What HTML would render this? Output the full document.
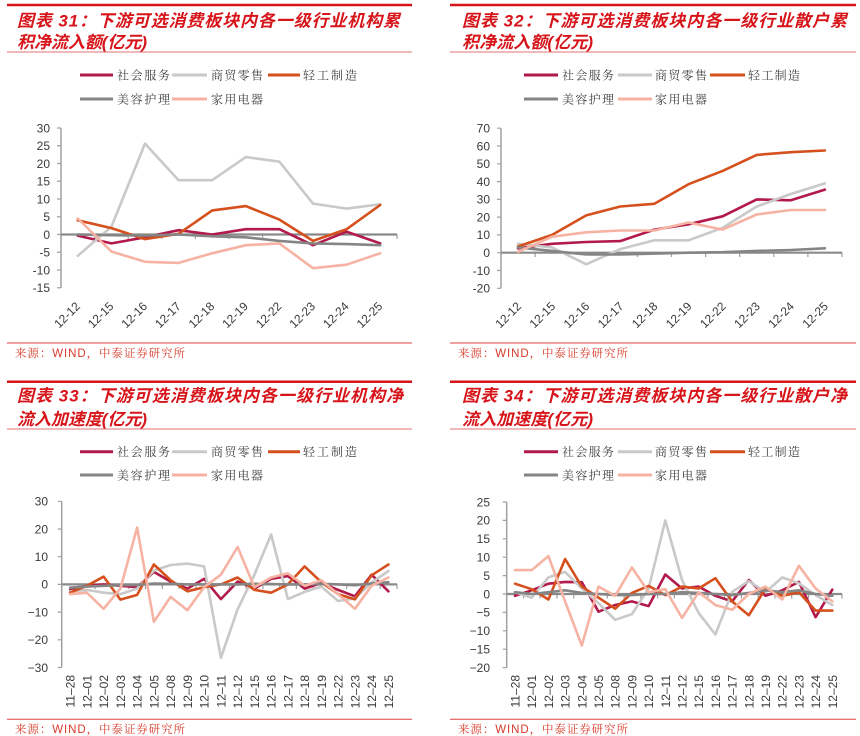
<!DOCTYPE html>
<html><head><meta charset="utf-8">
<style>
html,body{margin:0;padding:0;background:#fff;}
body{width:860px;height:736px;overflow:hidden;}
svg{display:block;}
.tt{font-family:"Liberation Sans","Noto Sans CJK SC",sans-serif;font-weight:bold;font-style:italic;font-size:17px;fill:#d7141a;}
.lg{font-family:"Liberation Serif","Noto Serif CJK SC",serif;font-size:12px;fill:#404040;}
.src{font-family:"Liberation Sans","Noto Serif CJK SC",serif;font-size:11.5px;fill:#d83a2a;}
.ax{font-family:"Liberation Sans",sans-serif;font-size:12px;fill:#3a3a3a;}
.s{fill:none;stroke-width:2.6;stroke-linejoin:round;stroke-linecap:round;}
.c1{stroke:#b21a4a}.c2{stroke:#c9c9c9}.c3{stroke:#d5501d}.c4{stroke:#858585}.c5{stroke:#f6b3a3}
.yax{stroke:#a0a0a0;stroke-width:1.5;fill:none}
.xax{stroke:#8a8a8a;stroke-width:2.2;fill:none}
.tk{stroke:#a0a0a0;stroke-width:1.2;fill:none}
</style></head>
<body>
<svg width="860" height="736" viewBox="0 0 860 736" xmlns="http://www.w3.org/2000/svg">
<!-- ========== Headers ========== -->
<g>
<line x1="7" y1="5" x2="412" y2="5" stroke="#d7141a" stroke-width="2.5"/>
<line x1="7" y1="52" x2="412" y2="52" stroke="#e27070" stroke-width="1"/>
<text class="tt" x="17" y="26.5" textLength="383" lengthAdjust="spacing">图表 31：下游可选消费板块内各一级行业机构累</text>
<text class="tt" x="17" y="48" textLength="130" lengthAdjust="spacing">积净流入额(亿元)</text>

<line x1="450" y1="5" x2="856" y2="5" stroke="#d7141a" stroke-width="2.5"/>
<line x1="450" y1="52" x2="856" y2="52" stroke="#e27070" stroke-width="1"/>
<text class="tt" x="462" y="26.5" textLength="385" lengthAdjust="spacing">图表 32：下游可选消费板块内各一级行业散户累</text>
<text class="tt" x="462" y="48" textLength="131" lengthAdjust="spacing">积净流入额(亿元)</text>

<line x1="7" y1="381.7" x2="412" y2="381.7" stroke="#d7141a" stroke-width="2.5"/>
<line x1="7" y1="429" x2="412" y2="429" stroke="#e27070" stroke-width="1"/>
<text class="tt" x="17" y="401.5" textLength="386" lengthAdjust="spacing">图表 33：下游可选消费板块内各一级行业机构净</text>
<text class="tt" x="17" y="424.8" textLength="130" lengthAdjust="spacing">流入加速度(亿元)</text>

<line x1="450" y1="381.7" x2="856" y2="381.7" stroke="#d7141a" stroke-width="2.5"/>
<line x1="450" y1="429" x2="856" y2="429" stroke="#e27070" stroke-width="1"/>
<text class="tt" x="462" y="401.5" textLength="385" lengthAdjust="spacing">图表 34：下游可选消费板块内各一级行业散户净</text>
<text class="tt" x="462" y="424.8" textLength="131" lengthAdjust="spacing">流入加速度(亿元)</text>
</g>

<!-- ========== Legends ========== -->
<g>
<!-- top-left -->
<line x1="80" y1="75" x2="113" y2="75" stroke="#b21a4a" stroke-width="3"/>
<text class="lg" x="117" y="79.5" textLength="53" lengthAdjust="spacing">社会服务</text>
<line x1="172" y1="75" x2="207" y2="75" stroke="#c9c9c9" stroke-width="3"/>
<text class="lg" x="211" y="79.5" textLength="52" lengthAdjust="spacing">商贸零售</text>
<line x1="268" y1="75" x2="300" y2="75" stroke="#d5501d" stroke-width="3"/>
<text class="lg" x="303" y="79.5" textLength="54" lengthAdjust="spacing">轻工制造</text>
<line x1="80" y1="99" x2="113" y2="99" stroke="#858585" stroke-width="3"/>
<text class="lg" x="117" y="103.5" textLength="53" lengthAdjust="spacing">美容护理</text>
<line x1="172" y1="99" x2="207" y2="99" stroke="#f6b3a3" stroke-width="3"/>
<text class="lg" x="211" y="103.5" textLength="52" lengthAdjust="spacing">家用电器</text>
<!-- top-right -->
<line x1="524" y1="75" x2="558" y2="75" stroke="#b21a4a" stroke-width="3"/>
<text class="lg" x="562" y="79.5" textLength="52" lengthAdjust="spacing">社会服务</text>
<line x1="618" y1="75" x2="652" y2="75" stroke="#c9c9c9" stroke-width="3"/>
<text class="lg" x="655" y="79.5" textLength="52" lengthAdjust="spacing">商贸零售</text>
<line x1="710" y1="75" x2="745" y2="75" stroke="#d5501d" stroke-width="3"/>
<text class="lg" x="748" y="79.5" textLength="52" lengthAdjust="spacing">轻工制造</text>
<line x1="524" y1="99" x2="558" y2="99" stroke="#858585" stroke-width="3"/>
<text class="lg" x="562" y="103.5" textLength="52" lengthAdjust="spacing">美容护理</text>
<line x1="618" y1="99" x2="652" y2="99" stroke="#f6b3a3" stroke-width="3"/>
<text class="lg" x="655" y="103.5" textLength="52" lengthAdjust="spacing">家用电器</text>
<!-- bottom-left -->
<line x1="80" y1="451.7" x2="113" y2="451.7" stroke="#b21a4a" stroke-width="3"/>
<text class="lg" x="117" y="456.2" textLength="53" lengthAdjust="spacing">社会服务</text>
<line x1="172" y1="451.7" x2="207" y2="451.7" stroke="#c9c9c9" stroke-width="3"/>
<text class="lg" x="211" y="456.2" textLength="52" lengthAdjust="spacing">商贸零售</text>
<line x1="268" y1="451.7" x2="300" y2="451.7" stroke="#d5501d" stroke-width="3"/>
<text class="lg" x="303" y="456.2" textLength="54" lengthAdjust="spacing">轻工制造</text>
<line x1="80" y1="475" x2="113" y2="475" stroke="#858585" stroke-width="3"/>
<text class="lg" x="117" y="479.5" textLength="53" lengthAdjust="spacing">美容护理</text>
<line x1="172" y1="475" x2="207" y2="475" stroke="#f6b3a3" stroke-width="3"/>
<text class="lg" x="211" y="479.5" textLength="52" lengthAdjust="spacing">家用电器</text>
<!-- bottom-right -->
<line x1="524" y1="451.7" x2="558" y2="451.7" stroke="#b21a4a" stroke-width="3"/>
<text class="lg" x="562" y="456.2" textLength="52" lengthAdjust="spacing">社会服务</text>
<line x1="618" y1="451.7" x2="652" y2="451.7" stroke="#c9c9c9" stroke-width="3"/>
<text class="lg" x="655" y="456.2" textLength="52" lengthAdjust="spacing">商贸零售</text>
<line x1="710" y1="451.7" x2="745" y2="451.7" stroke="#d5501d" stroke-width="3"/>
<text class="lg" x="748" y="456.2" textLength="52" lengthAdjust="spacing">轻工制造</text>
<line x1="524" y1="475" x2="558" y2="475" stroke="#858585" stroke-width="3"/>
<text class="lg" x="562" y="479.5" textLength="52" lengthAdjust="spacing">美容护理</text>
<line x1="618" y1="475" x2="652" y2="475" stroke="#f6b3a3" stroke-width="3"/>
<text class="lg" x="655" y="479.5" textLength="52" lengthAdjust="spacing">家用电器</text>
</g>

<!-- ========== Sources ========== -->
<g>
<line x1="7" y1="343" x2="412" y2="343" stroke="#e04040" stroke-width="1"/>
<text class="src" x="15" y="356.8" textLength="170" lengthAdjust="spacing">来源：WIND，中泰证券研究所</text>
<line x1="450" y1="343" x2="856" y2="343" stroke="#e04040" stroke-width="1"/>
<text class="src" x="458" y="356.8" textLength="170" lengthAdjust="spacing">来源：WIND，中泰证券研究所</text>
<line x1="7" y1="719.3" x2="412" y2="719.3" stroke="#e04040" stroke-width="1"/>
<text class="src" x="15" y="732.8" textLength="170" lengthAdjust="spacing">来源：WIND，中泰证券研究所</text>
<line x1="450" y1="719.3" x2="856" y2="719.3" stroke="#e04040" stroke-width="1"/>
<text class="src" x="458" y="732.8" textLength="170" lengthAdjust="spacing">来源：WIND，中泰证券研究所</text>
</g>

<!-- ========== Chart 31 (top-left) ========== -->
<g>
<line class="yax" x1="61" y1="128" x2="61" y2="288"/>
<path class="tk" d="M57 128H61M57 145.75H61M57 163.5H61M57 181.25H61M57 199H61M57 216.75H61M57 234.5H61M57 252.25H61M57 270H61M57 287.75H61"/>
<g class="ax" text-anchor="end">
<text x="50" y="132.3">30</text><text x="50" y="150">25</text><text x="50" y="167.8">20</text><text x="50" y="185.5">15</text><text x="50" y="203.3">10</text><text x="50" y="221">5</text><text x="50" y="238.8">0</text><text x="50" y="256.5">-5</text><text x="50" y="274.3">-10</text><text x="50" y="292">-15</text>
</g>
<path class="tk" d="M61 234.5V239M94.6 234.5V239M128.2 234.5V239M161.8 234.5V239M195.4 234.5V239M229 234.5V239M262.6 234.5V239M296.2 234.5V239M329.8 234.5V239M363.4 234.5V239M397 234.5V239"/>
<line class="xax" x1="61" y1="234.5" x2="397" y2="234.5"/>
<g class="ax" text-anchor="end">
<text transform="translate(80.8,307) rotate(-45)">12-12</text>
<text transform="translate(114.4,307) rotate(-45)">12-15</text>
<text transform="translate(148,307) rotate(-45)">12-16</text>
<text transform="translate(181.6,307) rotate(-45)">12-17</text>
<text transform="translate(215.2,307) rotate(-45)">12-18</text>
<text transform="translate(248.8,307) rotate(-45)">12-19</text>
<text transform="translate(282.4,307) rotate(-45)">12-22</text>
<text transform="translate(316,307) rotate(-45)">12-23</text>
<text transform="translate(349.6,307) rotate(-45)">12-24</text>
<text transform="translate(383.2,307) rotate(-45)">12-25</text>
</g>
<polyline class="s c1" points="77.8,235.6 111.4,243.4 145,237.3 178.6,230.2 212.2,234.5 245.8,229.2 279.4,229.2 313,245.2 346.6,231.7 380.2,243.4"/>
<polyline class="s c2" points="77.8,255.8 111.4,226.7 145,143.6 178.6,180.2 212.2,180.2 245.8,157.1 279.4,161.7 313,203.6 346.6,208.6 380.2,204.3"/>
<polyline class="s c3" points="77.8,220.3 111.4,228.1 145,239.1 178.6,233.8 212.2,210.4 245.8,206.1 279.4,219.6 313,240.9 346.6,229.2 380.2,205"/>
<polyline class="s c4" points="77.8,234.5 111.4,235.2 145,235.6 178.6,234.5 212.2,236.3 245.8,237.3 279.4,240.9 313,243.4 346.6,244.1 380.2,245.2"/>
<polyline class="s c5" points="77.8,218.5 111.4,251.5 145,261.8 178.6,262.9 212.2,253.3 245.8,245.2 279.4,243.4 313,268.2 346.6,264.7 380.2,253.3"/>
</g>

<!-- ========== Chart 32 (top-right) ========== -->
<g>
<line class="yax" x1="501" y1="128.2" x2="501" y2="288.3"/>
<path class="tk" d="M497 128.2H501M497 146H501M497 163.8H501M497 181.6H501M497 199.4H501M497 217.1H501M497 234.9H501M497 252.7H501M497 270.5H501M497 288.3H501"/>
<g class="ax" text-anchor="end">
<text x="490" y="132.5">70</text><text x="490" y="150.3">60</text><text x="490" y="168.1">50</text><text x="490" y="185.9">40</text><text x="490" y="203.7">30</text><text x="490" y="221.4">20</text><text x="490" y="239.2">10</text><text x="490" y="257">0</text><text x="490" y="274.8">-10</text><text x="490" y="292.6">-20</text>
</g>
<path class="tk" d="M501 252.7V257M535.1 252.7V257M569.2 252.7V257M603.3 252.7V257M637.4 252.7V257M671.5 252.7V257M705.6 252.7V257M739.7 252.7V257M773.8 252.7V257M807.9 252.7V257M842 252.7V257"/>
<line class="xax" x1="501" y1="252.7" x2="842" y2="252.7"/>
<g class="ax" text-anchor="end">
<text transform="translate(522,307) rotate(-45)">12-12</text>
<text transform="translate(556.1,307) rotate(-45)">12-15</text>
<text transform="translate(590.2,307) rotate(-45)">12-16</text>
<text transform="translate(624.3,307) rotate(-45)">12-17</text>
<text transform="translate(658.4,307) rotate(-45)">12-18</text>
<text transform="translate(692.5,307) rotate(-45)">12-19</text>
<text transform="translate(726.6,307) rotate(-45)">12-22</text>
<text transform="translate(760.7,307) rotate(-45)">12-23</text>
<text transform="translate(794.8,307) rotate(-45)">12-24</text>
<text transform="translate(828.9,307) rotate(-45)">12-25</text>
</g>
<polyline class="s c1" points="518,248.3 552.1,243.8 586.2,242 620.3,241.1 654.4,229.6 688.5,224.3 722.6,216.3 756.7,199.4 790.8,200.3 824.9,189.6"/>
<polyline class="s c2" points="518,243.8 552.1,247.4 586.2,264.3 620.3,249.1 654.4,240.3 688.5,240.3 722.6,227.8 756.7,206.5 790.8,194 824.9,183.4"/>
<polyline class="s c3" points="518,246.5 552.1,234.9 586.2,215.4 620.3,206.5 654.4,203.8 688.5,184.2 722.6,170.9 756.7,154.9 790.8,152.2 824.9,150.5"/>
<polyline class="s c4" points="518,247.4 552.1,250.9 586.2,254.5 620.3,254.5 654.4,253.6 688.5,252.7 722.6,252.2 756.7,250.9 790.8,250 824.9,248.3"/>
<polyline class="s c5" points="518,251.8 552.1,236.7 586.2,232.3 620.3,230.5 654.4,230.5 688.5,222.5 722.6,229.6 756.7,214.5 790.8,210 824.9,210"/>
</g>

<!-- ========== Chart 33 (bottom-left) ========== -->
<g>
<line class="yax" x1="61.7" y1="501.3" x2="61.7" y2="667.5"/>
<path class="tk" d="M57.7 501.3H61.7M57.7 529H61.7M57.7 556.7H61.7M57.7 584.4H61.7M57.7 612.1H61.7M57.7 639.8H61.7M57.7 667.5H61.7"/>
<g class="ax" text-anchor="end">
<text x="48" y="505.6">30</text><text x="48" y="533.3">20</text><text x="48" y="561">10</text><text x="48" y="588.7">0</text><text x="48" y="616.4">−10</text><text x="48" y="644.1">−20</text><text x="48" y="671.8">−30</text>
</g>
<path class="tk" d="M61.7 584.4V589M78.5 584.4V589M95.2 584.4V589M112 584.4V589M128.8 584.4V589M145.5 584.4V589M162.3 584.4V589M179.1 584.4V589M195.8 584.4V589M212.6 584.4V589M229.4 584.4V589M246.1 584.4V589M262.9 584.4V589M279.6 584.4V589M296.4 584.4V589M313.2 584.4V589M329.9 584.4V589M346.7 584.4V589M363.5 584.4V589M380.2 584.4V589M397 584.4V589"/>
<line class="xax" x1="61.7" y1="584.4" x2="397" y2="584.4"/>
<g class="ax" text-anchor="end">
<text transform="translate(74.6,675) rotate(-90)">11–28</text>
<text transform="translate(91.4,675) rotate(-90)">12–01</text>
<text transform="translate(108.1,675) rotate(-90)">12–02</text>
<text transform="translate(124.9,675) rotate(-90)">12–03</text>
<text transform="translate(141.6,675) rotate(-90)">12–04</text>
<text transform="translate(158.4,675) rotate(-90)">12–05</text>
<text transform="translate(175.1,675) rotate(-90)">12–08</text>
<text transform="translate(191.9,675) rotate(-90)">12–09</text>
<text transform="translate(208.6,675) rotate(-90)">12–10</text>
<text transform="translate(225.4,675) rotate(-90)">12–11</text>
<text transform="translate(242.1,675) rotate(-90)">12–12</text>
<text transform="translate(258.9,675) rotate(-90)">12–15</text>
<text transform="translate(275.6,675) rotate(-90)">12–16</text>
<text transform="translate(292.4,675) rotate(-90)">12–17</text>
<text transform="translate(309.1,675) rotate(-90)">12–18</text>
<text transform="translate(325.9,675) rotate(-90)">12–19</text>
<text transform="translate(342.6,675) rotate(-90)">12–22</text>
<text transform="translate(359.4,675) rotate(-90)">12–23</text>
<text transform="translate(376.1,675) rotate(-90)">12–24</text>
<text transform="translate(392.9,675) rotate(-90)">12–25</text>
</g>
<polyline class="s c1" points="70.1,589.9 86.9,585.8 103.6,584.4 120.4,585.8 137.1,587.2 153.9,571.9 170.6,581.6 187.4,588.6 204.1,578.9 220.9,599.1 237.6,581.6 254.4,588.6 271.1,578.9 287.9,576.1 304.6,588.6 321.4,583 338.1,589.9 354.9,596.3 371.6,574.7 388.4,591.3"/>
<polyline class="s c2" points="70.1,591.3 86.9,589.9 103.6,592.7 120.4,594.1 137.1,588.6 153.9,570.6 170.6,565 187.4,563.6 204.1,566.4 220.9,657.8 237.6,609.3 254.4,574.7 271.1,534.5 287.9,599.1 304.6,591.9 321.4,586.6 338.1,601 354.9,598.3 371.6,582.5 388.4,571.1"/>
<polyline class="s c3" points="70.1,592.7 86.9,585.8 103.6,576.6 120.4,599.6 137.1,594.9 153.9,564.5 170.6,580.2 187.4,591.3 204.1,587.2 220.9,584.4 237.6,577.5 254.4,589.9 271.1,592.7 287.9,584.4 304.6,566.4 321.4,582.2 338.1,594.1 354.9,599.4 371.6,575.3 388.4,564.5"/>
<polyline class="s c4" points="70.1,587.7 86.9,586.6 103.6,585.8 120.4,585.2 137.1,585 153.9,583.6 170.6,583.8 187.4,584.4 204.1,584.4 220.9,584.4 237.6,584.4 254.4,583.8 271.1,584.1 287.9,584.4 304.6,584.4 321.4,583.8 338.1,584.4 354.9,585.2 371.6,583.6 388.4,582.2"/>
<polyline class="s c5" points="70.1,594.1 86.9,592.7 103.6,608.8 120.4,588.6 137.1,527.6 153.9,621.8 170.6,596.9 187.4,610.2 204.1,587.2 220.9,574.7 237.6,547 254.4,587.2 271.1,577.5 287.9,573.3 304.6,585.8 321.4,580.2 338.1,594.1 354.9,608.8 371.6,585.8 388.4,577.5"/>
</g>

<!-- ========== Chart 34 (bottom-right) ========== -->
<g>
<line class="yax" x1="506.7" y1="502" x2="506.7" y2="667.6"/>
<path class="tk" d="M502.7 502H506.7M502.7 520.4H506.7M502.7 538.8H506.7M502.7 557.2H506.7M502.7 575.6H506.7M502.7 594H506.7M502.7 612.4H506.7M502.7 630.8H506.7M502.7 649.2H506.7M502.7 667.6H506.7"/>
<g class="ax" text-anchor="end">
<text x="490" y="506.3">25</text><text x="490" y="524.7">20</text><text x="490" y="543.1">15</text><text x="490" y="561.5">10</text><text x="490" y="579.9">5</text><text x="490" y="598.3">0</text><text x="490" y="616.7">−5</text><text x="490" y="635.1">−10</text><text x="490" y="653.5">−15</text><text x="490" y="671.9">−20</text>
</g>
<path class="tk" d="M506.7 594V598.5M523.5 594V598.5M540.2 594V598.5M557 594V598.5M573.8 594V598.5M590.5 594V598.5M607.3 594V598.5M624.1 594V598.5M640.8 594V598.5M657.6 594V598.5M674.4 594V598.5M691.1 594V598.5M707.9 594V598.5M724.6 594V598.5M741.4 594V598.5M758.2 594V598.5M774.9 594V598.5M791.7 594V598.5M808.5 594V598.5M825.2 594V598.5M842 594V598.5"/>
<line class="xax" x1="506.7" y1="594" x2="842" y2="594"/>
<g class="ax" text-anchor="end">
<text transform="translate(519.5,675) rotate(-90)">11–28</text>
<text transform="translate(536.2,675) rotate(-90)">12–01</text>
<text transform="translate(552.9,675) rotate(-90)">12–02</text>
<text transform="translate(569.6,675) rotate(-90)">12–03</text>
<text transform="translate(586.3,675) rotate(-90)">12–04</text>
<text transform="translate(603,675) rotate(-90)">12–05</text>
<text transform="translate(619.7,675) rotate(-90)">12–08</text>
<text transform="translate(636.4,675) rotate(-90)">12–09</text>
<text transform="translate(653.1,675) rotate(-90)">12–10</text>
<text transform="translate(669.8,675) rotate(-90)">12–11</text>
<text transform="translate(686.5,675) rotate(-90)">12–12</text>
<text transform="translate(703.2,675) rotate(-90)">12–15</text>
<text transform="translate(719.9,675) rotate(-90)">12–16</text>
<text transform="translate(736.6,675) rotate(-90)">12–17</text>
<text transform="translate(753.3,675) rotate(-90)">12–18</text>
<text transform="translate(770,675) rotate(-90)">12–19</text>
<text transform="translate(786.7,675) rotate(-90)">12–22</text>
<text transform="translate(803.4,675) rotate(-90)">12–23</text>
<text transform="translate(820.1,675) rotate(-90)">12–24</text>
<text transform="translate(836.8,675) rotate(-90)">12–25</text>
</g>
<polyline class="s c1" points="515,595.8 531.7,590.3 548.4,583.7 565.1,581.9 581.8,582.2 598.5,611.7 615.2,605 631.9,601.4 648.6,606.1 665.3,574.5 682,588.5 698.7,586.6 715.4,595.8 732.1,601.4 748.8,580 765.5,595.8 782.2,590.3 798.9,581.9 815.6,617.2 832.3,589.6"/>
<polyline class="s c2" points="515,592.2 531.7,597.7 548.4,577.4 565.1,571.9 581.8,588.5 598.5,603.2 615.2,619.8 631.9,614.2 648.6,588.5 665.3,520.4 682,580 698.7,613.1 715.4,634.5 732.1,591.8 748.8,581.1 765.5,592.2 782.2,577.4 798.9,583.3 815.6,595.1 832.3,605"/>
<polyline class="s c3" points="515,583.7 531.7,589.2 548.4,599.5 565.1,559 581.8,586.6 598.5,597.7 615.2,608.7 631.9,592.9 648.6,585.9 665.3,595.1 682,586.6 698.7,588.5 715.4,578.2 732.1,601.4 748.8,615.3 765.5,588.5 782.2,595.8 798.9,592.2 815.6,610.6 832.3,610.6"/>
<polyline class="s c4" points="515,592.2 531.7,594 548.4,592.2 565.1,590.3 581.8,592.9 598.5,594 615.2,595.1 631.9,595.1 648.6,594 665.3,594 682,592.2 698.7,592.9 715.4,594 732.1,595.1 748.8,592.9 765.5,590.3 782.2,592.2 798.9,590.3 815.6,594 832.3,595.8"/>
<polyline class="s c5" points="515,570.1 531.7,570.1 548.4,556.1 565.1,601.4 581.8,645.5 598.5,586.6 615.2,595.8 631.9,567.5 648.6,592.2 665.3,589.2 682,617.9 698.7,592.2 715.4,605 732.1,609.8 748.8,594 765.5,586.6 782.2,599.5 798.9,565.7 815.6,588.5 832.3,601.4"/>
</g>
</svg>
</body></html>
